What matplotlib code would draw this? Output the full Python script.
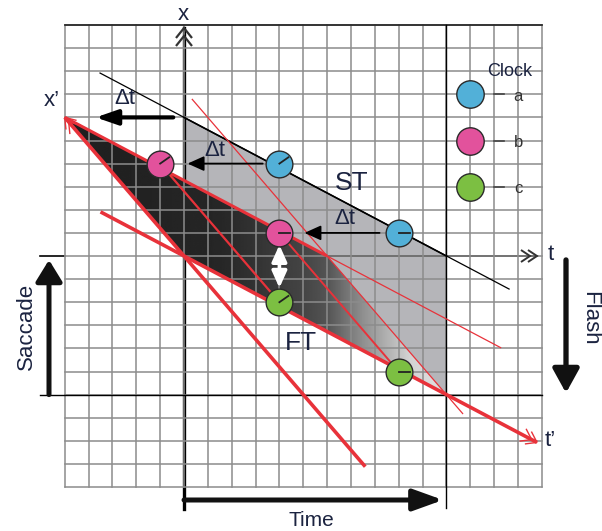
import numpy as np
import matplotlib.pyplot as plt
from matplotlib.patches import Polygon

plt.rcParams['font.family'] = ['Liberation Sans', 'DejaVu Sans']

# pixels per unit on the (t, x) grid, and where the origin sits in the image
PX, PY = 23.85, 23.1
OX, OY = 184, 256

# clocks on the world lines (t, x)
clock_t = [4, 9, -1, 4, 4, 9]
clock_x = [4, 1, 4, 1, -2, -5]
clock_kind = ['a', 'a', 'b', 'b', 'c', 'c']
clock_hand = [35, 0, 35, 0, 35, 0]
clock_color = {'a': '#52b0d8', 'b': '#e2529c', 'c': '#7cbf42'}

legend_kinds = ['a', 'b', 'c']
legend_x = [7, 5, 3]
legend_t = 12

# shaded regions
st_region = [(0, 6), (11, 0), (11, -6), (0, 0)]
ft_region = [(-5, 6), (0, 0), (11, -6), (6, 0)]

# thin black ST line
st_line_t = [-3.52, 13.63]
st_line_x = [7.92, -1.43]

# red lines: t0, x0, t1, x1, width
red_lines = [
    (-5, 6, 7.6, -9.12, 2.6),        # x' axis
    (-3.5, 1.91, 14.8, -8.07, 2.6),  # t' axis
    (-5, 6, 6, 0, 2.2),
    (6, 0, 13.3, -3.98, 0.9),
    (0.33, 6.8, 11.7, -6.84, 0.9),
    (-1, 4, 4, -2, 1.6),
    (4, 1, 9, -5, 1.4),
]

# delta-t arrows: t start, t end, x, width
dt_arrows = [(-0.45, -3.7, 6, 3.0), (3.3, 0.15, 4, 1.3), (8.2, 5.05, 1, 1.3)]

# gray level of the FT fill along t
shade_t = [-5, 1.5, 5, 6, 7.4, 8.4, 9.5, 11]
shade_v = [0.12, 0.15, 0.27, 0.33, 0.55, 0.68, 0.83, 0.88]

TXT = '#1b2340'
RED = '#e8323a'


def P(px, py):
    return (px - OX) / PX, (OY - py) / PY


fig = plt.figure(figsize=(6.02, 5.31), dpi=100)
ax = fig.add_axes([0, 0, 1, 1])
ax.set_xlim(-OX / PX, (602 - OX) / PX)
ax.set_ylim((OY - 531) / PY, OY / PY)
ax.axis('off')


def chevrons(tip, ang, color, lw, arm=9.0, half=6.0, gap=7.0, z=5):
    a = np.radians(ang)
    u = np.array([np.cos(a), np.sin(a)])
    n = np.array([-u[1], u[0]])
    for k in range(2):
        p = -k * gap * u
        pts = [p - arm * u + half * n, p, p - arm * u - half * n]
        ax.plot([tip[0] + q[0] / PX for q in pts], [tip[1] + q[1] / PY for q in pts],
                color=color, lw=lw, solid_joinstyle='miter', solid_capstyle='butt', zorder=z)


# ST region
ax.add_patch(Polygon(st_region, closed=True, facecolor='#b5b5b9', edgecolor='none', zorder=1))

# black axes under the FT fill
ax.plot([0, 0], [-10.97, 9.87], color='k', lw=2.4, zorder=1.5)
ax.plot([0, 14.8], [0, 0], color='k', lw=1.2, zorder=1.5)
ax.plot([-6.04, -5], [0, 0], color='k', lw=1.2, zorder=1.5)

# FT region with gradient
ft_patch = Polygon(ft_region, closed=True, facecolor='none', edgecolor='none', zorder=2)
ax.add_patch(ft_patch)
tt = np.linspace(-5, 11, 400)
img = np.tile(np.interp(tt, shade_t, shade_v), (2, 1))
im = ax.imshow(img, cmap='gray', vmin=0, vmax=1, extent=(-5, 11, -6, 6), origin='lower',
               aspect='auto', interpolation='bilinear', zorder=2)
im.set_clip_path(ft_patch)

# grid
for t in range(-5, 16):
    ax.plot([t, t], [-10, 10], color='#8c8c8c', lw=1.1, zorder=3)
for x in range(-10, 11):
    ax.plot([-5, 15], [x, x], color='#8c8c8c', lw=1.1, zorder=3)

# black frame lines
ax.plot([-5, 15], [10, 10], color='#222222', lw=1.2, zorder=3.5)
ax.plot([-6.04, 15], [-6, -6], color='k', lw=1.0, zorder=3.5)
ax.plot([11, 11], [10, -10.9], color='k', lw=1.0, zorder=3.5)
ax.plot(st_line_t, st_line_x, color='k', lw=0.9, zorder=3.5)
ax.plot([0, 11], [6, 0], color='k', lw=1.2, zorder=3.5)

chevrons((14.8, 0), 0, '#333333', 1.4, arm=9, half=6, gap=7)
chevrons((0, 9.87), 90, '#333333', 1.6, arm=10, half=8, gap=8)

# red world lines
for t0, x0, t1, x1, w in red_lines:
    ax.plot([t0, t1], [x0, x1], color=RED, lw=w, solid_capstyle='butt', zorder=4)
chevrons((-5, 6), 130.7, RED, 1.0, arm=10, half=7, gap=6)
chevrons((14.8, -8.07), -27.8, RED, 1.0, arm=10, half=7, gap=6)

# delta-t arrows
for t0, t1, x, w in dt_arrows:
    hl = 1.3 if w > 2 else 1.0
    ax.annotate('', xy=(t1, x), xytext=(t0, x),
                arrowprops=dict(arrowstyle='-|>,head_length=%g,head_width=0.45' % hl,
                                lw=w, color='k', shrinkA=0, shrinkB=0, mutation_scale=10),
                zorder=5)

# white double arrow between pink and green clocks
ax.annotate('', xy=(4, 0.48), xytext=(4, -1.38),
            arrowprops=dict(arrowstyle='<|-|>,head_length=1.0,head_width=0.45', lw=2.6,
                            color='white', shrinkA=0, shrinkB=0, mutation_scale=10),
            zorder=5)

# clocks
for t, x, k, h in zip(clock_t, clock_x, clock_kind, clock_hand):
    ax.scatter([t], [x], s=370, color=clock_color[k], edgecolors='#2a2a2a', linewidths=1.0, zorder=6)
    a = np.radians(h)
    ax.plot([t, t + 11 * np.cos(a) / PX], [x, x + 11 * np.sin(a) / PY], color='#222222',
            lw=1.3, zorder=6.5)

# legend
for k, x in zip(legend_kinds, legend_x):
    ax.scatter([legend_t], [x], s=390, color=clock_color[k], edgecolors='#2a2a2a', linewidths=1.0, zorder=6)
    ax.plot([legend_t + 24 / PX, legend_t + 34 / PX], [x, x], color='#444444', lw=1.2, zorder=6)
    ax.text(legend_t + 48 / PX, x - 2 / PY, k, fontsize=12, color='#333333', ha='center', va='center', zorder=7)
ax.text(*P(510, 72), 'Clock', fontsize=13, color=TXT, ha='center', va='center', zorder=7)

# big arrows
sx = P(49, 0)[0]
ax.annotate('', xy=(sx, -0.17), xytext=(sx, -6),
            arrowprops=dict(arrowstyle='-|>,head_length=1.3,head_width=0.8', lw=3.6,
                            color='#111111', shrinkA=0, shrinkB=0, mutation_scale=10), zorder=5)
fx = P(566, 0)[0]
ax.annotate('', xy=(fx, -5.93), xytext=(fx, -0.17),
            arrowprops=dict(arrowstyle='-|>,head_length=1.45,head_width=0.8', lw=3.8,
                            color='#111111', shrinkA=0, shrinkB=0, mutation_scale=10), zorder=5)
ty = P(0, 500)[1]
ax.annotate('', xy=(10.86, ty), xytext=(0, ty),
            arrowprops=dict(arrowstyle='-|>,head_length=1.8,head_width=0.65', lw=3.6,
                            color='#111111', shrinkA=0, shrinkB=0, mutation_scale=10), zorder=5)

# labels
ax.text(*P(183, 14), 'x', fontsize=16, color=TXT, ha='center', va='center', zorder=7)
ax.text(*P(551, 254), 't', fontsize=16, color=TXT, ha='center', va='center', zorder=7)
ax.text(*P(52, 100), 'x’', fontsize=16, color=TXT, ha='center', va='center', zorder=7)
ax.text(*P(550, 440), 't’', fontsize=16, color=TXT, ha='center', va='center', zorder=7)
ax.text(*P(352, 183), 'ST', fontsize=19, color=TXT, ha='center', va='center', zorder=7)
ax.text(*P(301, 343), 'FT', fontsize=19, color=TXT, ha='center', va='center', zorder=7)
for px, py in [(125, 98), (215, 150), (345, 218)]:
    ax.text(*P(px, py), 'Δt', fontsize=16, color=TXT, ha='center', va='center', zorder=7)
ax.text(*P(26, 326), 'Saccade', fontsize=16, color=TXT, ha='center', va='center', rotation=90, zorder=7)
ax.text(*P(590, 318), 'Flash', fontsize=16, color=TXT, ha='center', va='center', rotation=270, zorder=7)
ax.text(*P(311, 520), 'Time', fontsize=15, color=TXT, ha='center', va='center', zorder=7)

fig.savefig('out.png', dpi=100)
